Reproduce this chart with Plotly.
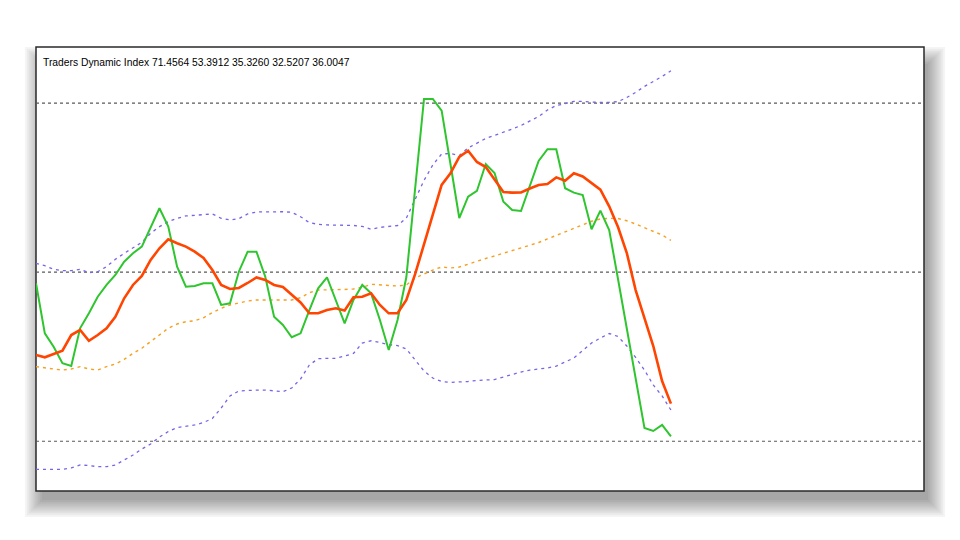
import plotly.graph_objects as go

# Traders Dynamic Index values (per bar)
rsi_price = [48.82, 43.49, 42.07, 40.30, 40.01, 44.03, 45.62, 47.39, 48.64, 49.70,
             51.12, 52.01, 52.72, 54.68, 56.81, 54.85, 50.59, 48.46, 48.53, 48.82,
             48.82, 46.51, 46.69, 50.05, 52.18, 52.18, 49.52, 45.26, 44.38, 43.07,
             43.49, 45.97, 48.29, 49.46, 47.04, 44.56, 47.04, 48.64, 47.75, 44.91,
             41.71, 44.91, 49.49, 58.86, 68.45, 68.45, 67.20, 61.52, 55.77, 58.04,
             58.65, 61.52, 60.56, 57.51, 56.62, 56.52, 59.07, 61.84, 63.09, 63.09,
             58.94, 58.47, 58.22, 54.57, 56.55, 54.49, 49.28, 43.95, 38.73, 33.41,
             33.09, 33.73, 32.5207]

trade_signal = [41.18, 40.94, 41.29, 41.64, 43.31, 43.84, 42.70, 43.31, 44.03, 45.26,
                47.22, 48.64, 49.60, 51.30, 52.55, 53.50, 53.08, 52.72, 52.18, 51.51,
                50.23, 48.64, 48.21, 48.32, 48.85, 49.44, 49.17, 48.64, 48.42, 47.57,
                46.77, 45.62, 45.62, 45.97, 46.16, 45.92, 47.33, 47.39, 47.75, 46.51,
                45.62, 45.62, 47.04, 49.81, 52.90, 56.20, 59.29, 60.53, 62.27, 62.94,
                61.74, 61.20, 59.82, 58.54, 58.47, 58.49, 58.91, 59.29, 59.39, 60.10,
                59.74, 60.53, 60.19, 59.45, 58.79, 57.02, 54.81, 52.04, 48.10, 45.12,
                42.14, 38.41, 36.0047]

market_base = [39.94, 39.83, 39.69, 39.58, 39.69, 39.94, 39.69, 39.58, 39.94, 40.22,
               40.72, 41.36, 41.90, 42.60, 43.31, 44.03, 44.48, 44.73, 44.83, 45.15,
               45.69, 46.16, 46.51, 46.75, 46.93, 47.04, 47.04, 47.04, 47.04, 47.04,
               47.28, 47.82, 48.10, 48.10, 48.10, 48.16, 48.21, 48.39, 48.71, 48.67,
               48.56, 48.53, 48.64, 49.38, 49.81, 50.23, 50.55, 50.45, 50.55, 50.87,
               51.14, 51.46, 51.73, 52.01, 52.31, 52.58, 52.90, 53.16, 53.54, 53.91,
               54.28, 54.65, 55.08, 55.42, 55.67, 55.74, 55.72, 55.48, 55.13, 54.76,
               54.39, 53.96, 53.3912]

vb_high = [50.95, 50.69, 50.31, 50.16, 50.16, 50.31, 49.95, 50.05, 50.59, 51.37,
           52.01, 52.61, 53.18, 54.14, 54.85, 55.38, 55.74, 55.99, 56.06, 56.12,
           56.20, 55.74, 55.56, 55.70, 56.20, 56.41, 56.44, 56.44, 56.44, 56.38,
           55.91, 55.27, 55.10, 55.03, 55.03, 55.03, 54.98, 54.87, 54.57, 54.77,
           54.89, 54.97, 55.77, 57.80, 59.77, 61.42, 62.59, 62.64, 62.43, 63.23,
           63.76, 64.24, 64.56, 64.88, 65.25, 65.62, 66.10, 66.58, 67.27, 67.75,
           67.94, 68.18, 68.18, 68.12, 68.07, 68.09, 68.16, 68.60, 69.14, 69.78,
           70.29, 70.84, 71.4564]

vb_low = [29.01, 29.01, 29.01, 29.01, 29.15, 29.47, 29.41, 29.29, 29.29, 29.47,
          30.00, 30.53, 31.17, 31.70, 32.45, 33.03, 33.46, 33.59, 33.73, 33.99,
          34.42, 35.54, 36.82, 37.35, 37.42, 37.45, 37.45, 37.40, 37.27, 37.67,
          38.63, 40.12, 40.79, 40.83, 40.83, 41.08, 41.34, 42.46, 42.70, 42.51,
          42.28, 42.19, 41.82, 40.65, 39.48, 38.73, 38.36, 38.27, 38.30, 38.36,
          38.47, 38.52, 38.57, 38.84, 39.13, 39.37, 39.58, 39.69, 39.80, 40.01,
          40.44, 40.86, 41.66, 42.46, 42.99, 43.47, 43.15, 42.14, 40.92, 39.58,
          37.99, 36.82, 35.3260]

levels = [32, 50, 68]
title_text = "Traders Dynamic Index 71.4564 53.3912 35.3260 32.5207 36.0047"

bars = list(range(len(rsi_price)))

fig = go.Figure()
fig.add_trace(go.Scatter(x=bars, y=vb_high, mode="lines",
                         line=dict(color="#7566e6", width=1.3, dash="3px,4px")))
fig.add_trace(go.Scatter(x=bars, y=vb_low, mode="lines",
                         line=dict(color="#7566e6", width=1.3, dash="3px,4px")))
fig.add_trace(go.Scatter(x=bars, y=market_base, mode="lines",
                         line=dict(color="#f5a020", width=1.4, dash="3px,4px")))
fig.add_trace(go.Scatter(x=bars, y=rsi_price, mode="lines",
                         line=dict(color="#2ec52e", width=2)))
fig.add_trace(go.Scatter(x=bars, y=trade_signal, mode="lines",
                         line=dict(color="#ff4500", width=2.6)))

# page body adds an 8px offset, so the figure is 8px smaller than the window
OFF = 8
W, H = 960 - OFF, 540 - OFF
L, T = 36 - OFF, 47 - OFF
pw, ph = 888, 444
R, B = W - L - pw, H - T - ph

def px_x(p):
    return (p - OFF - L) / pw

def px_y(p):
    return (H - B - (p - OFF)) / ph

shapes = []
# soft drop shadow
for k in range(10):
    e = 1 + k * 1.9
    ox, oy = 3, 8
    shapes.append(dict(type="rect", xref="paper", yref="paper", layer="below",
                       x0=px_x(36 + ox + 4 - e), x1=px_x(924 + ox + e),
                       y0=px_y(491 + oy + e), y1=px_y(47 + 18 - e),
                       fillcolor="rgba(0,0,0,0.04)", line=dict(width=0)))
# white chart panel with dark frame
shapes.append(dict(type="rect", xref="paper", yref="paper", layer="below",
                   x0=0, x1=1, y0=0, y1=1, fillcolor="white",
                   line=dict(color="#2a2a2a", width=1.5)))
for lv in levels:
    shapes.append(dict(type="line", xref="paper", yref="y", layer="below",
                       x0=0, x1=1, y0=lv, y1=lv,
                       line=dict(color="#5a5a5a", width=1.2, dash="3px,3px")))

fig.update_layout(
    width=W, height=H,
    margin=dict(l=L, r=R, t=T, b=B),
    paper_bgcolor="white",
    plot_bgcolor="rgba(0,0,0,0)",
    showlegend=False,
    shapes=shapes,
    xaxis=dict(range=[0, 100.7], visible=False, fixedrange=True),
    yaxis=dict(range=[26.70, 73.98], visible=False, fixedrange=True),
    annotations=[dict(text=title_text, xref="paper", yref="paper",
                      x=px_x(41), y=px_y(63), xanchor="left", yanchor="middle",
                      showarrow=False,
                      font=dict(family="Liberation Sans", size=10.3, color="black"))],
)

fig.write_html("out.html", config={"displayModeBar": False})
